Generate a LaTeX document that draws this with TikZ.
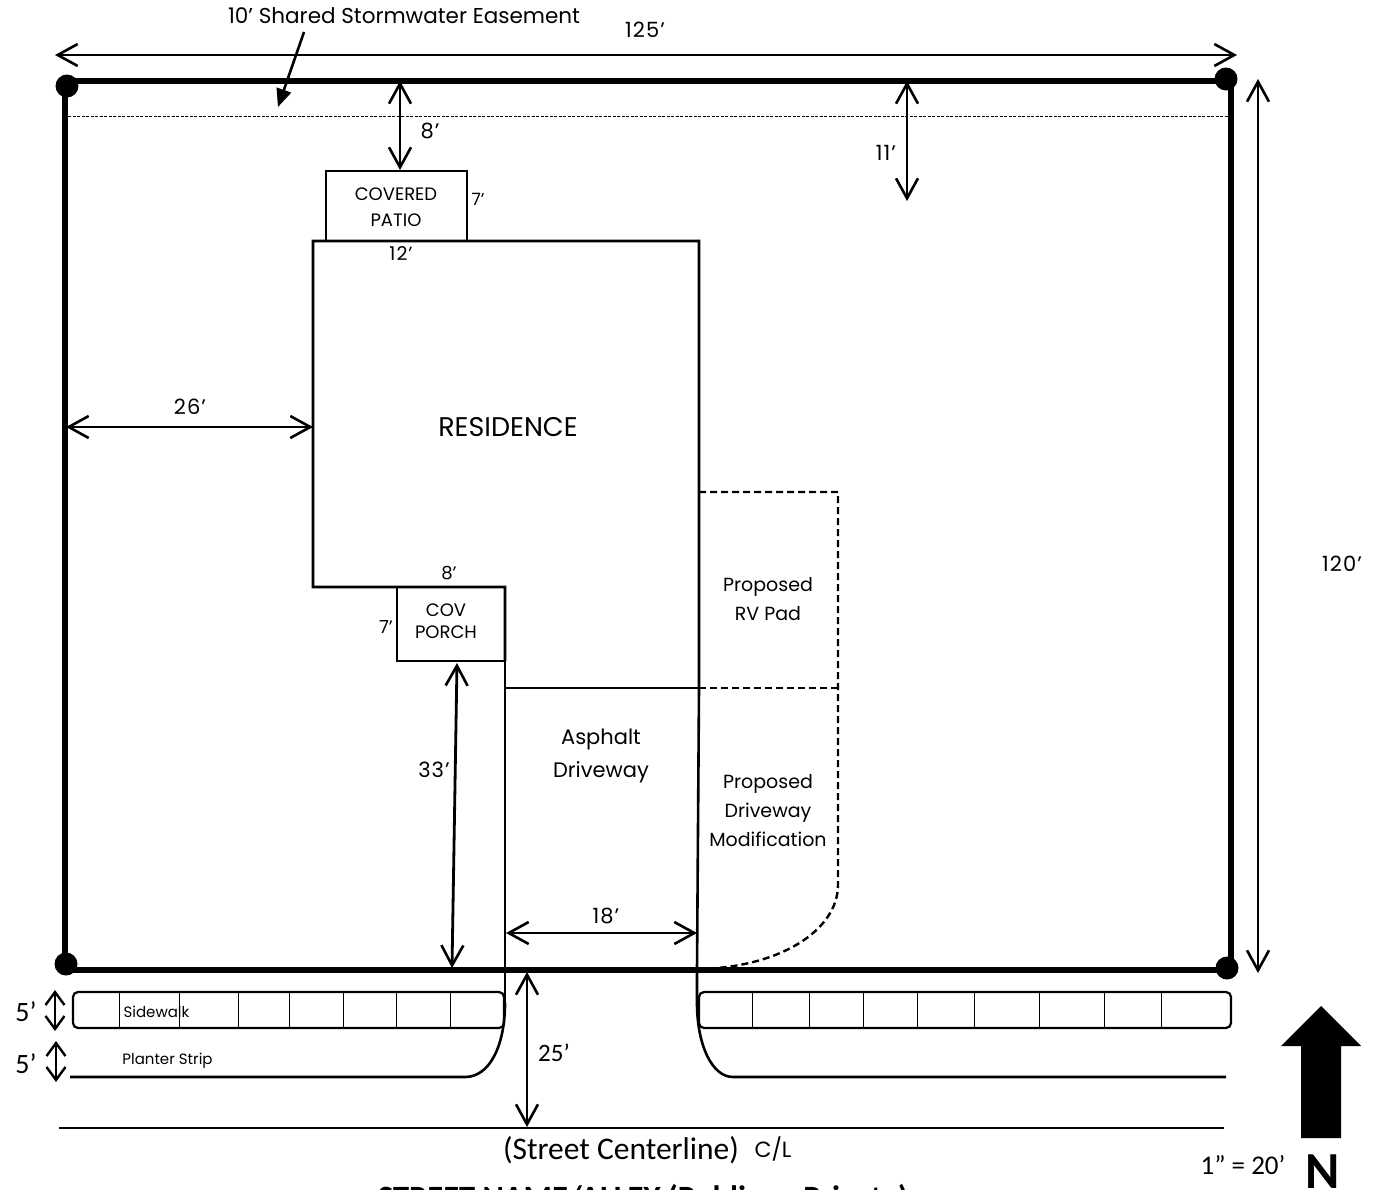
\documentclass[tikz,border=0pt]{standalone}
\usepackage{fontspec}
\setmainfont{Poppins}
\newfontfamily\carl{Carlito}
\newfontfamily\dimf[LetterSpace=5]{Poppins}
\usetikzlibrary{arrows.meta}
\newcommand{\fs}[1]{\fontsize{#1}{#1}\selectfont}
\tikzset{
  lot/.style={line width=5.5pt,line cap=butt},
  wall/.style={line width=2.6pt,line join=miter},
  thinbox/.style={line width=2.2pt},
  propline/.style={line width=2.4pt,dash pattern=on 7pt off 4pt},
  cell/.style={line width=1pt},
  dim/.style={line width=2.8pt,{Straight Barb[length=20pt,width=22pt,line width=2.6pt]}-{Straight Barb[length=20pt,width=22pt,line width=2.6pt]}},
  shortdim/.style={line width=2.6pt,{Straight Barb[length=13pt,width=19pt,line width=2.4pt]}-{Straight Barb[length=13pt,width=19pt,line width=2.4pt]}},
  lab/.style={inner sep=0pt,align=center,font=\fs{19}},
  num/.style={inner sep=0pt,align=center,font=\dimf\fs{21}},
  cal/.style={inner sep=0pt,align=center,font=\carl\fs{28}},
  pin/.style={fill=black,draw=none},
}
\begin{document}
\begin{tikzpicture}[x=1pt,y=-1pt]
\useasboundingbox (0,0) rectangle (1376,1189);
\clip (0,0) rectangle (1376,1189);
% corners
\coordinate (nw) at (65,81); \coordinate (ne) at (1231,81);
\coordinate (sw) at (65,970); \coordinate (se) at (1231,970);
\draw[lot] (nw) -- (ne) -- (se) -- (sw) -- cycle;
\fill[pin] (67,86) circle (11.5);
\fill[pin] (1226,79) circle (11.5);
\fill[pin] (66,964) circle (11.5);
\fill[pin] (1227,968) circle (11.5);
% easement
\coordinate (ea) at (68,116); \coordinate (eb) at (1229,116);
\draw[line width=1pt,dash pattern=on 3pt off 1.5pt] (ea) -- (eb);
\node[lab,font=\fs{21.5}] (easement) at (404,16) {10’ Shared Stormwater Easement};
\coordinate (ep) at (278,107); \coordinate (eq) at (304,32);
\draw[line width=2.6pt,-{Triangle[length=18pt,width=15pt]}] (eq) -- (ep);
% overall dims
\coordinate (ta) at (55,55); \coordinate (tb) at (1237,55);
\draw[dim] (ta) -- (tb);
\node[num] (t125) at (645,30) {125’};
\coordinate (ra) at (1258,79); \coordinate (rb) at (1258,973);
\draw[dim] (ra) -- (rb);
\node[num] (t120) at (1342,564) {120’};
% patio
\node[draw,thinbox,minimum width=141pt,minimum height=70pt,inner sep=0pt,outer sep=0pt] (patio) at (396.5,206) {};
\node[lab,font=\fs{18}] (patiot) at (396,207) {COVERED\\[8pt]PATIO};
\node[lab,font=\fs{17}] (p7) at (478,199) {7’};
\node[num,font=\dimf\fs{19}] (p12) at (401,254) {12’};
% residence
\draw[wall] (505,661) -- (505,587) -- (397,587) -- (313,587) -- (313,241) -- (699,241) -- (699,492) -- (699,688) -- (697,970) -- (697,1003);
% porch
\draw[wall] (397,587) -- (397,661) -- (505,661) -- (505,688) -- (505,1003);
\draw[wall] (505,688) -- (699,688);
\node[lab,font=\fs{18}] (port) at (446,621) {COV\\[4pt]PORCH};
\node[lab,font=\fs{18}] (c8) at (449,573) {8’};
\node[lab,font=\fs{18}] (c7) at (386,627) {7’};
% proposed
\draw[propline] (699,492) -- (838,492) -- (838,885) .. controls (838,930) and (780,968) .. (697,969);
\draw[propline] (699,688) -- (838,688);
\node[lab] (rv) at (768,599.5) {Proposed\\[10pt]RV Pad};
\node[lab] (pdm) at (768,810.5) {Proposed\\[9pt]Driveway\\[8pt]Modification};
\node[lab,font=\fs{21}] (asp) at (601,756) {Asphalt\\[10pt]Driveway};
\node[lab,font=\fs{27}] (res) at (508,427) {RESIDENCE};
% sidewalks
\draw[line width=2.2pt,rounded corners=5pt] (73,992) rectangle (504,1028);
\foreach \x in {119.5,179.5,238,289,343,396,450} \draw[cell] (\x,992) -- (\x,1028);
\draw[line width=2.2pt,rounded corners=5pt] (699,992) rectangle (1231,1028);
\foreach \x in {752,809,863,917,974,1039.5,1104,1161} \draw[cell] (\x,992) -- (\x,1028);
\node[lab,font=\fs{15}] (sw1) at (156.5,1012) {Sidewalk};
\node[lab,font=\fs{15}] (pl1) at (167.5,1061) {Planter Strip};
% curbs
\draw[wall] (505,1003) .. controls (505,1045) and (490,1077) .. (465,1077) -- (70,1077);
\draw[wall] (697,1003) .. controls (697,1045) and (712,1077) .. (733,1077) -- (1226,1077);
% centerline
\coordinate (cla) at (59,1128); \coordinate (clb) at (1224,1128);
\draw[line width=2.4pt] (cla) -- (clb);
\node[cal,font=\carl\fs{31.5}] (cen) at (621,1150) {(Street Centerline)};
\node[lab,font=\fs{22}] (cl) at (773,1149) {C/L};
\node[cal,font=\carl\bfseries\fs{32.5},anchor=base] (title) at (643,1208) {STREET NAME/ALLEY (Public or Private)};
% dimensions
\coordinate (d8a) at (400,81); \coordinate (d8b) at (400,170);
\draw[dim] (d8a) -- (d8b); \node[num] (l8) at (430,131) {8’};
\coordinate (d11a) at (907,81); \coordinate (d11b) at (907,201);
\draw[dim] (d11a) -- (d11b); \node[num] (l11) at (886,153) {11’};
\coordinate (d26a) at (66,427); \coordinate (d26b) at (313,427);
\draw[dim] (d26a) -- (d26b); \node[num] (l26) at (190,407) {26’};
\coordinate (d33a) at (457,663); \coordinate (d33b) at (452,968);
\draw[dim] (d33a) -- (d33b); \node[num] (l33) at (434,770) {33’};
\coordinate (d18a) at (506,933); \coordinate (d18b) at (697,933);
\draw[dim] (d18a) -- (d18b); \node[num] (l18) at (606,916) {18’};
\coordinate (d25a) at (527,972); \coordinate (d25b) at (527,1127);
\draw[dim] (d25a) -- (d25b); \node[cal,font=\carl\fs{25}] (l25) at (554,1053) {25’};
\coordinate (d5a) at (55,990); \coordinate (d5b) at (55,1031);
\draw[shortdim] (d5a) -- (d5b); \node[cal] (l5a) at (26,1012) {5’};
\coordinate (d5c) at (56,1041); \coordinate (d5d) at (56,1082);
\draw[shortdim] (d5c) -- (d5d); \node[cal] (l5b) at (26,1064) {5’};
% north
\fill (1321,1006) -- (1361,1046) -- (1341,1046) -- (1341,1138) -- (1301,1138) -- (1301,1046) -- (1281,1046) -- cycle;
\node[inner sep=0pt,font=\carl\bfseries\fs{52},anchor=base] (north) at (1323,1188) {N};
\node[cal,font=\carl\fs{27}] (scale) at (1243,1165) {1” = 20’};
\end{tikzpicture}
\end{document}
